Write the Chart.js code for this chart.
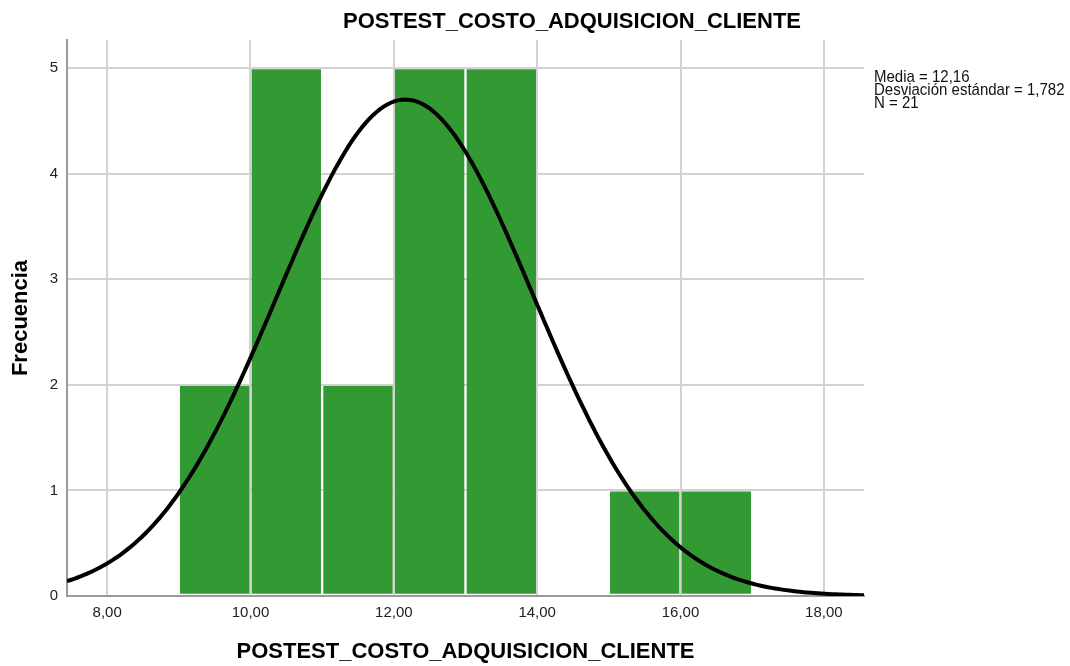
<!DOCTYPE html>
<html>
<head>
<meta charset="utf-8">
<title>POSTEST_COSTO_ADQUISICION_CLIENTE</title>
<script src="https://cdn.jsdelivr.net/npm/chart.js@4/dist/chart.umd.min.js"></script>
<style>
  html, body { margin: 0; padding: 0; background: #ffffff; }
  #wrap { width: 1070px; height: 666px; }
</style>
</head>
<body>
<div id="wrap"><canvas id="hist" width="1070" height="666"></canvas></div>
<script>
// Histogram bins (lower edge of each bin, width 1) and their counts
const binLefts = [9, 10, 11, 12, 13, 14, 15, 16];
const frequencies = [2, 5, 2, 5, 5, 0, 1, 1];
const binWidth = 1;

// Axis ticks and range
const xTicks = [8, 10, 12, 14, 16, 18];
const yTicks = [0, 1, 2, 3, 4, 5];
const xRange = [7.44, 18.56];
const yRange = [0, 5.265];

// Summary statistics shown beside the plot
const statLabels = ['Media', 'Desviación estándar', 'N'];
const statTexts = ['12,16', '1,782', '21'];
const statMean = 12.16;
const statSd = 1.782;
const statN = 21;

const chartTitle = 'POSTEST_COSTO_ADQUISICION_CLIENTE';
const xTitle = 'POSTEST_COSTO_ADQUISICION_CLIENTE';
const yTitle = 'Frecuencia';

const FONT = "'Liberation Sans', Arial, Helvetica, sans-serif";

// Bars centred on each bin
const barPoints = binLefts.map((b, i) => ({ x: b + binWidth / 2, y: frequencies[i] }));

// Fitted normal curve scaled to counts (N * bin width * density)
const curvePoints = [];
for (let k = 0; k <= 224; k++) {
  const x = xRange[0] + k * (xRange[1] - xRange[0]) / 224;
  const z = (x - statMean) / statSd;
  const y = statN * binWidth * Math.exp(-0.5 * z * z) / (statSd * Math.sqrt(2 * Math.PI));
  curvePoints.push({ x, y });
}

const fmtComma = v => Number(v).toFixed(2).replace('.', ',');

// Titles and the statistics box
const textPlugin = {
  id: 'textPlugin',
  afterDraw(chart) {
    const ctx = chart.ctx;
    const area = chart.chartArea;
    ctx.save();
    ctx.fillStyle = '#000000';
    ctx.font = 'bold 22px ' + FONT;
    ctx.textAlign = 'center';
    ctx.textBaseline = 'middle';
    ctx.fillText(chartTitle, 572, 22);
    ctx.fillText(xTitle, (area.left + area.right) / 2, 652);
    ctx.save();
    ctx.translate(21, (area.top + area.bottom) / 2);
    ctx.rotate(-Math.PI / 2);
    ctx.fillText(yTitle, 0, 0);
    ctx.restore();

    ctx.font = '15px ' + FONT;
    ctx.fillStyle = '#111111';
    ctx.textAlign = 'left';
    ctx.textBaseline = 'alphabetic';
    statLabels.forEach((lab, i) => {
      ctx.save();
      ctx.translate(874, 82 + i * 13);
      ctx.scale(1, 1.12);
      ctx.fillText(lab + ' = ' + statTexts[i], 0, 0);
      ctx.restore();
    });
    ctx.restore();
  }
};

new Chart(document.getElementById('hist'), {
  type: 'bar',
  data: {
    datasets: [
      {
        type: 'line',
        data: curvePoints,
        borderColor: '#000000',
        borderWidth: 4,
        pointRadius: 0,
        tension: 0,
        fill: false,
        order: 0
      },
      {
        type: 'bar',
        data: barPoints,
        backgroundColor: '#339933',
        borderColor: 'rgba(255,255,255,0)',
        borderWidth: 1.5,
        borderSkipped: false,
        barPercentage: 1,
        categoryPercentage: 1,
        grouped: false,
        order: 1
      }
    ]
  },
  options: {
    responsive: false,
    devicePixelRatio: 1,
    animation: false,
    layout: { padding: { left: 0, top: 40, right: 206, bottom: 0 } },
    plugins: {
      legend: { display: false },
      tooltip: { enabled: false },
      title: { display: false }
    },
    scales: {
      x: {
        type: 'linear',
        min: xRange[0],
        max: xRange[1],
        offset: false,
        afterFit(scale) { scale.height = 70; },
        afterBuildTicks(scale) { scale.ticks = xTicks.map(v => ({ value: v })); },
        grid: { color: '#d2d2d2', lineWidth: 2, drawTicks: false, offset: false },
        border: { display: true, color: '#9a9a9a', width: 2 },
        ticks: {
          padding: 8,
          color: '#222222',
          font: { family: FONT, size: 15 },
          maxRotation: 0,
          autoSkip: false,
          callback: v => fmtComma(v)
        }
      },
      y: {
        type: 'linear',
        min: yRange[0],
        max: yRange[1],
        afterFit(scale) { scale.width = 67; },
        afterBuildTicks(scale) { scale.ticks = yTicks.map(v => ({ value: v })); },
        grid: { color: '#d2d2d2', lineWidth: 2, drawTicks: false },
        border: { display: true, color: '#9a9a9a', width: 2 },
        ticks: {
          padding: 9,
          color: '#222222',
          font: { family: FONT, size: 15 },
          autoSkip: false,
          callback: v => String(v)
        }
      }
    }
  },
  plugins: [textPlugin]
});
</script>
</body>
</html>
